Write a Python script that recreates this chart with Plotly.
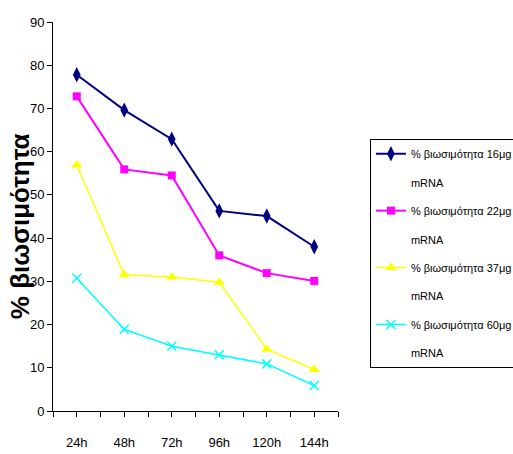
import plotly.graph_objects as go

times = ["24h", "48h", "72h", "96h", "120h", "144h"]
s16 = [77.8, 69.6, 62.9, 46.3, 45.1, 38.0]
s22 = [72.8, 55.9, 54.5, 36.0, 31.9, 30.1]
s37 = [56.9, 31.5, 31.0, 29.8, 14.3, 9.6]
s60 = [30.7, 18.9, 15.0, 13.0, 10.9, 5.9]

names = [
    "% βιωσιμότητα 16μg<br><br>mRNA",
    "% βιωσιμότητα 22μg<br><br>mRNA",
    "% βιωσιμότητα 37μg<br><br>mRNA",
    "% βιωσιμότητα 60μg<br><br>mRNA",
]
colors = ["#000080", "#FF00FF", "#FFFF00", "#00FFFF"]
symbols = ["diamond-tall", "square", "triangle-up", "x-thin-open"]
sizes = [11, 8, 10, 9]
widths = [2, 2, 1.5, 1.5]
series = [s16, s22, s37, s60]

xpos = list(range(len(times)))

fig = go.Figure()
for i, s in enumerate(series):
    mk = dict(symbol=symbols[i], size=sizes[i], color=colors[i])
    if symbols[i].endswith("open"):
        mk["line"] = dict(color=colors[i], width=1.5)
    fig.add_trace(go.Scatter(
        x=xpos, y=s, name=names[i], mode="lines+markers",
        line=dict(color=colors[i], width=widths[i]),
        marker=mk, legendgroup=str(i),
    ))

tickfont = dict(family="Liberation Sans, Arial", size=13, color="#000")

fig.update_layout(
    width=513, height=454,
    margin=dict(l=53, r=175, t=22, b=43, autoexpand=False),
    paper_bgcolor="white", plot_bgcolor="white",
    showlegend=True,
    legend=dict(
        x=1.112, y=0.699, xanchor="left", yanchor="top",
        bordercolor="#000", borderwidth=1, bgcolor="white",
        font=dict(family="Liberation Sans, Arial", size=11, color="#000"),
        valign="top", tracegroupgap=11, itemwidth=30,
    ),
    xaxis=dict(
        range=[-0.5, 5.5], tickmode="array", tickvals=xpos, ticktext=times,
        showgrid=False, zeroline=False, showline=True, linecolor="#000", linewidth=1,
        ticks="outside", ticklen=5, tickcolor="#000", tickfont=tickfont,
        ticklabelstandoff=14, automargin=False,
        minor=dict(ticks="outside", ticklen=5, tickcolor="#000", dtick=0.5, tick0=-0.5, showgrid=False),
    ),
    yaxis=dict(
        range=[0, 90], dtick=10, showgrid=False, zeroline=False,
        showline=True, linecolor="#000", linewidth=1, automargin=False,
        ticks="outside", ticklen=5, tickcolor="#000", tickfont=tickfont,
    ),
    annotations=[dict(
        text="% βιωσιμότητα", textangle=-90, xref="paper", yref="paper",
        x=-0.115, y=0.4756, xanchor="center", yanchor="middle", showarrow=False,
        font=dict(family="Liberation Sans, Arial", size=26, color="#000", weight="bold"),
    )],
)

fig.write_html("out.html")
